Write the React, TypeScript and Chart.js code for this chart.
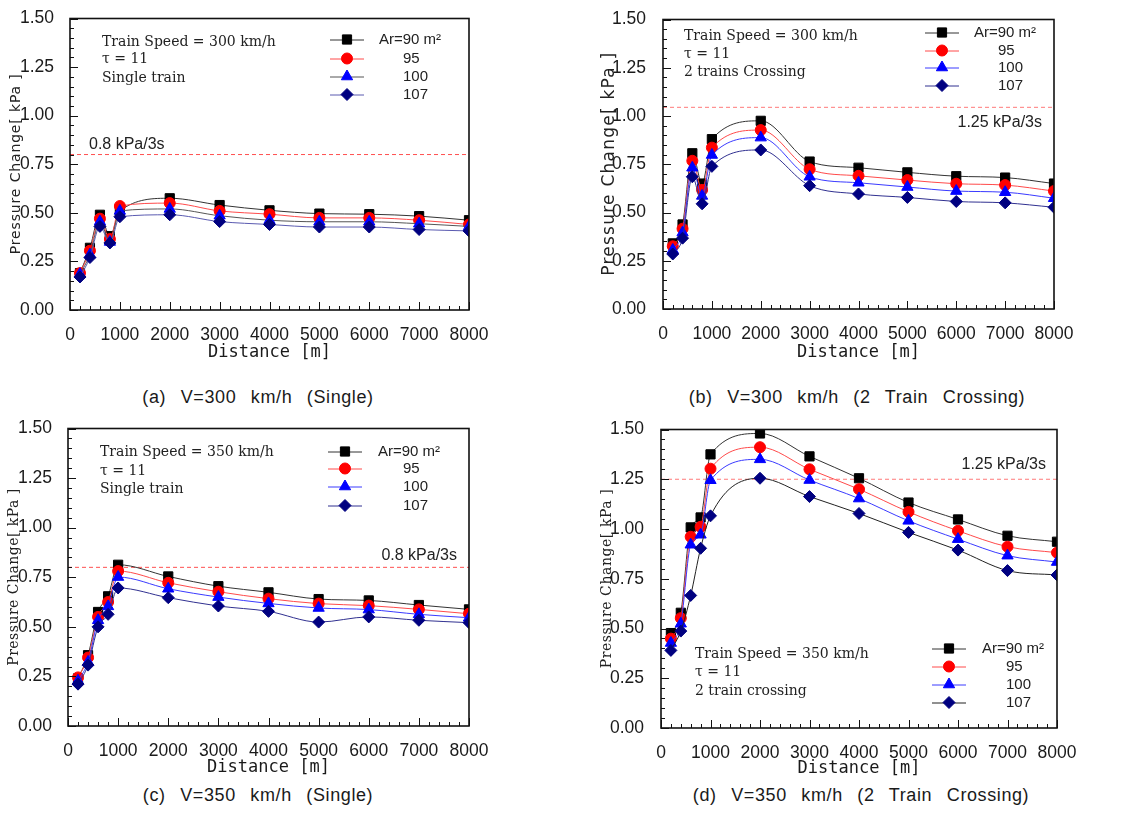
import React, { useEffect, useRef } from 'react';
import { Chart, registerables } from 'chart.js';
import { drawPoint } from 'chart.js/helpers';

Chart.register(...registerables);

// ---------- data ----------
const distance = [200, 400, 600, 800, 1000, 2000, 3000, 4000, 5000, 6000, 7000, 8000];
const seriesLabels = ['Ar=90 m²', '95', '100', '107'];

// (a) V=300 km/h single
const a90 = [0.19, 0.32, 0.49, 0.38, 0.51, 0.575, 0.54, 0.513, 0.496, 0.493, 0.483, 0.462];
const a95 = [0.19, 0.305, 0.47, 0.365, 0.535, 0.55, 0.51, 0.493, 0.474, 0.474, 0.462, 0.44];
const a100 = [0.185, 0.285, 0.455, 0.35, 0.51, 0.52, 0.485, 0.462, 0.454, 0.454, 0.444, 0.43];
const a107 = [0.17, 0.27, 0.43, 0.345, 0.48, 0.49, 0.455, 0.44, 0.427, 0.427, 0.414, 0.407];

// (b) V=300 km/h 2 trains crossing
const b90 = [0.34, 0.438, 0.807, 0.65, 0.88, 0.975, 0.764, 0.732, 0.708, 0.688, 0.681, 0.65];
const b95 = [0.325, 0.416, 0.768, 0.617, 0.836, 0.927, 0.724, 0.69, 0.668, 0.649, 0.642, 0.611];
const b100 = [0.306, 0.396, 0.732, 0.586, 0.798, 0.888, 0.685, 0.654, 0.632, 0.611, 0.605, 0.574];
const b107 = [0.285, 0.367, 0.685, 0.545, 0.739, 0.824, 0.639, 0.596, 0.578, 0.557, 0.55, 0.527];

// (c) V=350 km/h single
const c90 = [0.24, 0.357, 0.575, 0.654, 0.813, 0.754, 0.705, 0.674, 0.64, 0.633, 0.61, 0.588];
const c95 = [0.245, 0.345, 0.55, 0.625, 0.781, 0.722, 0.677, 0.642, 0.617, 0.607, 0.588, 0.566];
const c100 = [0.228, 0.323, 0.533, 0.603, 0.751, 0.692, 0.65, 0.618, 0.595, 0.587, 0.563, 0.546];
const c107 = [0.211, 0.307, 0.5, 0.563, 0.696, 0.647, 0.605, 0.578, 0.524, 0.55, 0.533, 0.521];

// (d) V=350 km/h 2 trains crossing
const d90 = [0.477, 0.579, 1.008, 1.058, 1.375, 1.48, 1.365, 1.255, 1.133, 1.048, 0.966, 0.936];
const d95 = [0.449, 0.552, 0.961, 1.011, 1.303, 1.411, 1.3, 1.2, 1.086, 0.991, 0.911, 0.881];
const d100 = [0.427, 0.524, 0.921, 0.971, 1.245, 1.35, 1.246, 1.153, 1.041, 0.949, 0.866, 0.834];
const d107 = [0.39, 0.487, 0.666, 0.903, 1.066, 1.255, 1.163, 1.078, 0.983, 0.894, 0.791, 0.769];

const limitValues = [0.8, 1.045, 0.8, 1.25];
const limitLabels = ['0.8 kPa/3s', '1.25 kPa/3s', '0.8 kPa/3s', '1.25 kPa/3s'];
const infoLines = [
  ['Train Speed = 300 km/h', 'τ = 11', 'Single train'],
  ['Train Speed = 300 km/h', 'τ = 11', '2 trains Crossing'],
  ['Train Speed = 350 km/h', 'τ = 11', 'Single train'],
  ['Train Speed = 350 km/h', 'τ = 11', '2 train crossing'],
];
const captions = [
  '(a) V=300 km/h (Single)',
  '(b) V=300 km/h (2 Train Crossing)',
  '(c) V=350 km/h (Single)',
  '(d) V=350 km/h (2 Train Crossing)',
];
const xTitle = 'Distance [m]';
const yTitle = 'Pressure Change[ kPa ]';
const xMin = 0, xMax = 8000, xStep = 1000, xMinor = 200;
const yMin = 0, yMax = 1.5, yStep = 0.25, yMinor = 0.05;

// ---------- styles / layout ----------
const pointStyles = ['rect', 'circle', 'triangle', 'rectRot'];
const pointColors = ['#000000', '#ff0000', '#0000ff', '#000080'];
const pointRadii = [6.5, 5.5, 6.5, 6];

const panels = [
  {
    series: [a90, a95, a100, a107], left: 0, top: 0, w: 560, h: 370,
    area: { l: 70, r: 469, t: 13, b: 310 },
    lineColors: ['#333333', '#ff4a4a', '#555555', '#5a5ab0'],
    yTitle: { x: 16, len: 180, size: 14, family: '"DejaVu Sans"' }, xTitleY: 353,
    tickPad: 8,
    info: { x: 32, y: [24, 41, 60] },
    legend: { mx: 277, rows: [21, 40, 58, 76], arX: 309, numX: 333 },
    limitLabel: { x: 19, y: 126, align: 'left' }, limitColor: '#ff5050',
    caption: { cx: 258, cy: 397 },
  },
  {
    series: [b90, b95, b100, b107], left: 560, top: 0, w: 567, h: 370,
    area: { l: 103, r: 494, t: 15, b: 309 },
    lineColors: ['#333333', '#ff4a4a', '#3a3aff', '#303090'],
    yTitle: { x: 50, len: 223, size: 17, family: '"DejaVu Sans"' }, xTitleY: 353,
    tickPad: 9,
    info: { x: 21, y: [17, 35, 53] },
    legend: { mx: 279, rows: [13, 31, 48, 66], arX: 311, numX: 335 },
    limitLabel: { x: -12, y: 103, align: 'right' }, limitColor: '#ff7a7a',
    caption: { cx: 857, cy: 397 },
  },
  {
    series: [c90, c95, c100, c107], left: 0, top: 410, w: 560, h: 370,
    area: { l: 68, r: 469, t: 18, b: 316 },
    lineColors: ['#333333', '#ff4a4a', '#3a3aff', '#303090'],
    yTitle: { x: 14, len: 177, size: 14, family: '"DejaVu Serif"' }, xTitleY: 358,
    tickPad: 8,
    info: { x: 32, y: [24, 43, 61] },
    legend: { mx: 277, rows: [23, 40, 58, 77], arX: 310, numX: 335 },
    limitLabel: { x: -12, y: 127, align: 'right' }, limitColor: '#ff5050',
    caption: { cx: 258, cy: 795 },
  },
  {
    series: [d90, d95, d100, d107], left: 560, top: 410, w: 567, h: 370,
    area: { l: 101, r: 497, t: 18, b: 318 },
    lineColors: ['#333333', '#ff4a4a', '#3a3aff', '#222222'],
    yTitle: { x: 47, len: 179, size: 14, family: '"DejaVu Serif"' }, xTitleY: 359,
    tickPad: 9,
    info: { x: 34, y: [225, 243, 262] },
    legend: { mx: 288, rows: [219, 237, 255, 273], arX: 321, numX: 345 },
    limitLabel: { x: -11, y: 35, align: 'right' }, limitColor: '#ff7a7a',
    caption: { cx: 861, cy: 795 },
  },
];

const decorPlugin = {
  id: 'panelDecor',
  afterDraw(chart: any, _args: any, opts: any) {
    const ctx = chart.ctx as any;
    const a = chart.chartArea;
    const xs = chart.scales.x;
    const ys = chart.scales.y;
    ctx.save();
    // inward ticks
    ctx.strokeStyle = '#111';
    ctx.lineWidth = 1;
    const nY = Math.round((yMax - yMin) / yMinor);
    for (let i = 0; i <= nY; i++) {
      const v = yMin + i * yMinor;
      const py = Math.round(ys.getPixelForValue(v)) + 0.5;
      const major = i % Math.round(yStep / yMinor) === 0;
      const len = major ? 8 : 4;
      ctx.beginPath();
      ctx.moveTo(a.left, py);
      ctx.lineTo(a.left + len, py);
      ctx.stroke();
    }
    const nX = Math.round((xMax - xMin) / xMinor);
    for (let i = 0; i <= nX; i++) {
      const v = xMin + i * xMinor;
      const px = Math.round(xs.getPixelForValue(v)) + 0.5;
      const major = i % Math.round(xStep / xMinor) === 0;
      const len = major ? 8 : 4;
      ctx.beginPath();
      ctx.moveTo(px, a.bottom);
      ctx.lineTo(px, a.bottom - len);
      ctx.stroke();
    }
    // frame
    ctx.lineWidth = 1.6;
    ctx.strokeStyle = '#111';
    ctx.strokeRect(a.left, a.top, a.right - a.left, a.bottom - a.top);

    // y-axis title (letter-spaced like the original)
    const yt = opts.yTitle;
    ctx.save();
    ctx.font = `${yt.size}px ${yt.family}`;
    ctx.letterSpacing = '0px';
    const base = ctx.measureText(yTitle).width;
    const n = yTitle.length;
    const ls = Math.max(0, (yt.len - base) / (n - 1));
    ctx.letterSpacing = `${ls}px`;
    ctx.translate(yt.x, (a.top + a.bottom) / 2);
    ctx.rotate(-Math.PI / 2);
    ctx.fillStyle = '#222';
    ctx.textAlign = 'left';
    ctx.textBaseline = 'middle';
    ctx.fillText(yTitle, -(base + (n - 1) * ls) / 2, 0);
    ctx.restore();

    // info text
    ctx.fillStyle = '#222';
    ctx.textBaseline = 'middle';
    ctx.textAlign = 'left';
    ctx.font = '14px "DejaVu Serif"';
    opts.infoLines.forEach((t: string, i: number) => {
      ctx.fillText(t, a.left + opts.info.x, a.top + opts.info.y[i]);
    });

    // limit label
    ctx.font = '16px "Liberation Sans", Arial';
    const ll = opts.limitLabel;
    if (ll.align === 'left') {
      ctx.textAlign = 'left';
      ctx.fillText(opts.limitText, a.left + ll.x, a.top + ll.y);
    } else {
      ctx.textAlign = 'right';
      ctx.fillText(opts.limitText, a.right + ll.x, a.top + ll.y);
    }

    // legend
    const lg = opts.legend;
    for (let i = 0; i < 4; i++) {
      const mx = a.left + lg.mx;
      const my = a.top + lg.rows[i];
      ctx.strokeStyle = opts.lineColors[i];
      ctx.lineWidth = 1;
      ctx.beginPath();
      ctx.moveTo(mx - 17, my + 0.5);
      ctx.lineTo(mx + 17, my + 0.5);
      ctx.stroke();
      ctx.fillStyle = pointColors[i];
      ctx.strokeStyle = pointColors[i];
      drawPoint(ctx, { pointStyle: pointStyles[i], radius: pointRadii[i], rotation: 0, borderWidth: 1 } as any, mx, my);
      ctx.fillStyle = '#222';
      ctx.textAlign = 'left';
      ctx.font = '15px "Liberation Sans", Arial';
      ctx.fillText(seriesLabels[i], a.left + (i === 0 ? lg.arX : lg.numX), my);
    }
    ctx.restore();
  },
};

function Panel({ idx }: { idx: number }) {
  const ref = useRef<HTMLCanvasElement | null>(null);
  const p = panels[idx];
  useEffect(() => {
    if (!ref.current) return;
    const datasets: any[] = p.series.map((ys, i) => ({
      label: seriesLabels[i],
      data: distance.map((x, k) => ({ x, y: ys[k] })),
      borderColor: p.lineColors[i],
      borderWidth: 1,
      pointStyle: pointStyles[i],
      pointRadius: pointRadii[i],
      pointBackgroundColor: pointColors[i],
      pointBorderColor: pointColors[i],
      pointBorderWidth: 1,
      cubicInterpolationMode: 'monotone',
      fill: false,
      order: 4 - i,
    }));
    datasets.push({
      label: 'limit',
      data: [{ x: xMin, y: limitValues[idx] }, { x: xMax, y: limitValues[idx] }],
      borderColor: p.limitColor,
      borderDash: [4, 3],
      borderWidth: 1,
      pointRadius: 0,
      fill: false,
      order: 10,
    });
    const xTitleSize = 17;
    const chart = new Chart(ref.current, {
      type: 'line',
      data: { datasets },
      options: {
        responsive: false,
        animation: false,
        devicePixelRatio: 1,
        layout: { padding: { left: 0, top: p.area.t, right: p.w - p.area.r, bottom: 0 } },
        plugins: {
          legend: { display: false },
          tooltip: { enabled: false },
          panelDecor: {
            infoLines: infoLines[idx],
            info: p.info,
            legend: p.legend,
            lineColors: p.lineColors,
            limitText: limitLabels[idx],
            limitLabel: p.limitLabel,
            yTitle: p.yTitle,
          },
        } as any,
        scales: {
          x: {
            type: 'linear',
            min: xMin,
            max: xMax,
            grid: { display: false },
            border: { display: false },
            ticks: {
              stepSize: xStep,
              padding: 7,
              autoSkip: false,
              maxRotation: 0,
              color: '#1a1a1a',
              font: { family: '"Liberation Sans", Arial', size: 17.5 },
              callback: (v: any) => String(v),
            },
            title: {
              display: true,
              text: xTitle,
              color: '#1a1a1a',
              font: { family: '"DejaVu Sans Mono", monospace', size: xTitleSize },
              padding: { top: 0, bottom: p.h - p.xTitleY - (xTitleSize * 1.2) / 2 },
            },
            afterFit: (s: any) => { s.height = p.h - p.area.b; },
          },
          y: {
            type: 'linear',
            min: yMin,
            max: yMax,
            grid: { display: false },
            border: { display: false },
            ticks: {
              stepSize: yStep,
              padding: p.tickPad,
              color: '#1a1a1a',
              font: { family: '"Liberation Sans", Arial', size: 17.5 },
              callback: (v: any) => Number(v).toFixed(2),
            },
            title: { display: false, text: yTitle },
            afterFit: (s: any) => { s.width = p.area.l; },
          },
        },
      } as any,
      plugins: [decorPlugin],
    });
    return () => chart.destroy();
  }, [idx]);
  return (
    <canvas
      ref={ref}
      width={p.w}
      height={p.h}
      style={{ position: 'absolute', left: p.left, top: p.top, width: p.w, height: p.h, display: 'block' }}
    />
  );
}

export default function App() {
  return (
    <div style={{ position: 'absolute', left: 0, top: 0, width: 1127, height: 831, background: '#fff', overflow: 'hidden' }}>
      {panels.map((p, i) => (
        <React.Fragment key={i}>
          <Panel idx={i} />
          <div
            style={{
              position: 'absolute',
              left: p.caption.cx - 250,
              top: p.caption.cy - 11,
              width: 500,
              height: 22,
              lineHeight: '22px',
              textAlign: 'center',
              fontFamily: '"Liberation Sans", Arial, sans-serif',
              fontSize: 18,
              letterSpacing: '0.6px',
              wordSpacing: '9px',
              color: '#1a1a1a',
              whiteSpace: 'nowrap',
            }}
          >
            {captions[i]}
          </div>
        </React.Fragment>
      ))}
    </div>
  );
}
